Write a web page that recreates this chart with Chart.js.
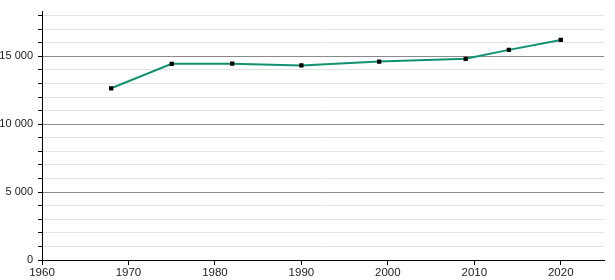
<!DOCTYPE html>
<html>
<head>
<meta charset="utf-8">
<script src="https://cdn.jsdelivr.net/npm/chart.js@4/dist/chart.umd.min.js"></script>
<style>
html,body{margin:0;padding:0;background:#fff;}
#wrap{width:615px;height:280px;}
</style>
</head>
<body>
<div id="wrap"><canvas id="pop"></canvas></div>
<script>
const years = [1968, 1975, 1982, 1990, 1999, 2009, 2014, 2020];
const population = [12650, 14450, 14460, 14330, 14620, 14820, 15480, 16210];
const xTicks = [1960, 1970, 1980, 1990, 2000, 2010, 2020];

const points = years.map((y, i) => ({x: y, y: population[i]}));

function fmt(v) {
    return String(v).replace(/\B(?=(\d{3})+(?!\d))/g, " ");
}

new Chart(document.querySelector("#pop"), {
    type: "scatter",
    data: {
        datasets: [{
            data: points,
            showLine: true,
            borderColor: "#109270",
            borderWidth: 2,
            pointStyle: "rect",
            pointRadius: 3,
            pointBackgroundColor: "#000",
            pointBorderColor: "#000",
            pointBorderWidth: 0,
            tension: 0,
        }]
    },
    options: {
        responsive: true,
        maintainAspectRatio: false,
        animation: false,
        layout: {padding: {top: 10, right: 11, left: 0, bottom: 0}},
        plugins: {legend: {display: false}, tooltip: {enabled: false}},
        scales: {
            x: {
                type: "linear",
                min: 1960,
                max: 2025,
                afterBuildTicks: s => { s.ticks = xTicks.map(v => ({value: v})); },
                afterFit: s => { s.height = 20; },
                grid: {drawOnChartArea: false, drawTicks: true, tickLength: 5, color: "#000"},
                border: {color: "#000", width: 1},
                ticks: {
                    autoSkip: false,
                    maxRotation: 0,
                    padding: 1,
                    color: "#222",
                    font: {family: "Liberation Sans", size: 11.5},
                    callback: v => String(v),
                },
            },
            y: {
                min: 0,
                max: 18300,
                afterBuildTicks: s => {
                    const t = [];
                    for (let v = 0; v <= 18000; v += 1000) t.push({value: v});
                    s.ticks = t;
                },
                afterFit: s => { s.width = 42; },
                grid: {
                    drawTicks: true,
                    tickLength: 4,
                    color: c => c.tick.value % 5000 === 0 ? "#8a8a8a" : "#e2e2e2",
                    tickColor: "#000",
                },
                border: {color: "#000", width: 1},
                ticks: {
                    autoSkip: false,
                    padding: 5,
                    color: "#222",
                    font: {family: "Liberation Sans", size: 11},
                    callback: v => v % 5000 === 0 ? fmt(v) : "",
                },
            },
        },
    },
});
</script>
</body>
</html>
